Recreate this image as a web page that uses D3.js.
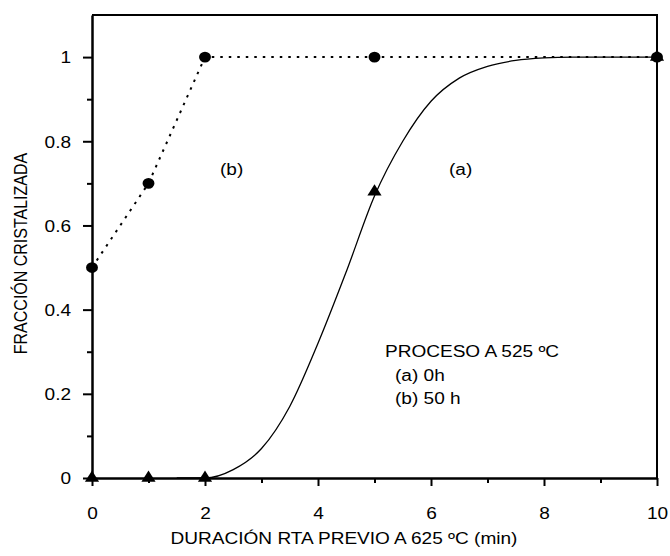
<!DOCTYPE html>
<html>
<head>
<meta charset="utf-8">
<script src="https://cdn.jsdelivr.net/npm/d3@7"></script>
<style>
  body { margin: 0; background: #fff; }
  text { font-family: "Liberation Sans", Arial, sans-serif; fill: #000; }
</style>
</head>
<body>
<svg id="chart" width="670" height="556"></svg>
<script>
// series (b) 50 h : measured points, dotted line
var bX = [0, 1, 2, 5, 10];
var bY = [0.5, 0.7, 1, 1, 1];
// series (a) 0 h : measured points (triangles)
var aX = [0, 1, 2, 5, 10];
var aY = [0, 0, 0, 0.68, 1];
// series (a) fitted curve
var curveX = [1.5, 2, 2.5, 3, 3.5, 4, 4.5, 5, 5.5, 6, 6.5, 7, 7.5, 8, 8.5, 10];
var curveY = [0, 0, 0.02, 0.07, 0.17, 0.32, 0.49, 0.67, 0.8, 0.895, 0.95, 0.978, 0.992, 0.998, 1, 1];
// ticks
var xMajor = [0, 2, 4, 6, 8, 10];
var xMinor = [1, 3, 5, 7, 9];
var yMajor = [0, 0.2, 0.4, 0.6, 0.8, 1];
var yMinor = [0.1, 0.3, 0.5, 0.7, 0.9];
var xTitle = "DURACIÓN RTA PREVIO A 625 ºC (min)";
var yTitle = "FRACCIÓN CRISTALIZADA";
var legendLines = ["PROCESO A 525 ºC", "(a) 0h", "(b) 50 h"];

//the source picture is stretched sideways, so text gets the same stretch
var SX = 1.19;
var pLeft = 92, pRight = 657, pTop = 15, pBottom = 478;

var svg = d3.select("#chart");
var x = d3.scaleLinear().domain([0, 10]).range([pLeft, pRight]);
var y = d3.scaleLinear().domain([0, 1.1]).range([pBottom, pTop]);
var fmt = function(d) { return String(+d.toFixed(1)); };

//frame: top and right
svg.append("line").attr("x1", pLeft).attr("x2", pRight + 1).attr("y1", pTop).attr("y2", pTop)
  .attr("stroke", "#000").attr("stroke-width", 2);
svg.append("line").attr("x1", pRight).attr("x2", pRight).attr("y1", pTop).attr("y2", pBottom)
  .attr("stroke", "#000").attr("stroke-width", 2);

//y axis
var gy = svg.append("g").attr("transform", "translate(" + pLeft + ",0)")
  .call(d3.axisLeft(y).tickValues(yMajor).tickSize(9).tickSizeOuter(0).tickFormat(fmt));
gy.append("g").call(d3.axisLeft(y).tickValues(yMinor).tickSize(5).tickSizeOuter(0).tickFormat(""))
  .select(".domain").remove();
gy.selectAll(".domain").attr("stroke-width", 2.5);
gy.selectAll(".tick line").attr("stroke-width", 2);
gy.selectAll(".tick text")
  .attr("x", -21 / SX).attr("dy", "0.36em")
  .attr("transform", "scale(" + SX + ",1)")
  .style("font-size", "16px").style("font-family", "'Liberation Sans', Arial, sans-serif");

//x axis
var gx = svg.append("g").attr("transform", "translate(0," + pBottom + ")")
  .call(d3.axisBottom(x).tickValues(xMajor).tickSize(8).tickSizeOuter(0).tickFormat(fmt));
gx.append("g").call(d3.axisBottom(x).tickValues(xMinor).tickSize(5).tickSizeOuter(0).tickFormat(""))
  .select(".domain").remove();
gx.selectAll(".domain").attr("stroke-width", 2.5);
gx.selectAll(".tick line").attr("stroke-width", 2);
gx.selectAll(".tick text")
  .attr("y", 30).attr("dy", "0.71em")
  .attr("transform", "scale(" + SX + ",1)")
  .style("font-size", "16px").style("font-family", "'Liberation Sans', Arial, sans-serif");

//helper for stretched labels
function label(px, py, txt, anchor) {
  svg.append("g")
    .attr("transform", "translate(" + px + "," + py + ") scale(" + SX + ",1)")
    .append("text")
    .attr("text-anchor", anchor || "start")
    .style("font-size", "16px")
    .text(txt);
}

//axis titles
label(344, 544, xTitle, "middle");
svg.append("g")
  .attr("transform", "translate(27,253.5) scale(" + SX + ",1) rotate(-90)")
  .append("text").attr("text-anchor", "middle").style("font-size", "16px").text(yTitle);

//series labels and legend
label(220, 175, "(b)");
label(449, 175, "(a)");
label(385, 357, legendLines[0]);
label(395, 381, legendLines[1]);
label(395, 404, legendLines[2]);

//series (a) curve
var curveData = curveX.map(function(d, i) { return [d, curveY[i]]; });
svg.append("path")
  .datum(curveData)
  .attr("fill", "none")
  .attr("stroke", "#000")
  .attr("stroke-width", 1.3)
  .attr("d", d3.line().x(function(d) { return x(d[0]); }).y(function(d) { return y(d[1]); })
    .curve(d3.curveMonotoneX));

//series (b) dotted line
var bData = bX.map(function(d, i) { return [d, bY[i]]; });
svg.append("path")
  .datum(bData)
  .attr("fill", "none")
  .attr("stroke", "#000")
  .attr("stroke-width", 2)
  .attr("stroke-dasharray", "2.5,6")
  .attr("d", d3.line().x(function(d) { return x(d[0]); }).y(function(d) { return y(d[1]); }));

//markers
svg.append("g").selectAll("path")
  .data(bData)
  .enter().append("path")
  .attr("d", d3.symbol().type(d3.symbolCircle).size(92))
  .attr("transform", function(d) { return "translate(" + x(d[0]) + "," + y(d[1]) + ") scale(1.1,1)"; })
  .attr("fill", "#000");

var aData = aX.map(function(d, i) { return [d, aY[i]]; });
svg.append("g").selectAll("path")
  .data(aData)
  .enter().append("path")
  .attr("d", d3.symbol().type(d3.symbolTriangle).size(66))
  .attr("transform", function(d) { return "translate(" + x(d[0]) + "," + y(d[1]) + ") scale(1.15,1.05)"; })
  .attr("fill", "#000");
</script>
</body>
</html>
